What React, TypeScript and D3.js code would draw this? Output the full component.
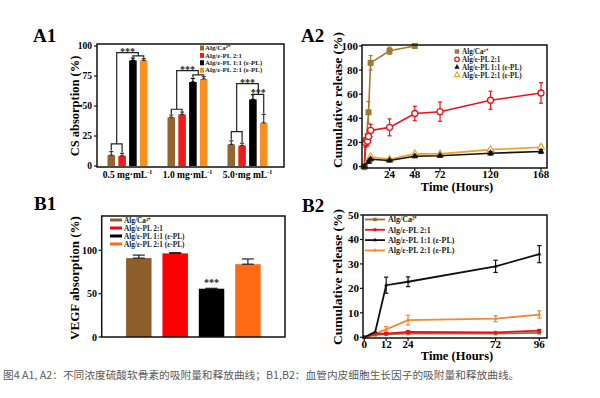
import React from 'react';
import * as d3 from 'd3';

const SERIF = '"Liberation Serif", "Times New Roman", serif';

// legend labels shared by all four panels
const seriesNames = ['Alg/Ca²⁺', 'Alg/ε-PL 2:1', 'Alg/ε-PL 1:1 (ε-PL)', 'Alg/ε-PL 2:1 (ε-PL)'];

// A1: CS absorption (%) at three concentrations
const a1Groups = ['0.5 mg·mL', '1.0 mg·mL', '5.0·mg mL'];
const a1Brown = [9, 40.5, 18];
const a1Red = [8.5, 43, 17];
const a1Black = [88, 70, 55.5];
const a1Orange = [88, 72.5, 36];
const a1BrownErr = [3, 2, 3];
const a1RedErr = [2, 2, 2];
const a1BlackErr = [2, 3, 4];
const a1OrangeErr = [1.5, 2, 7];
const a1Ticks = [0, 25, 50, 75, 100];
// significance bracket levels per group
const a1PairLow = [18.5, 47.3, 28.6];
const a1PairHigh = [91.8, 76, 59.7];
const a1Top = [94.5, 79.5, 68.6];

// A2: cumulative CS release
const a2BrownT = [0, 4, 6, 24, 48];
const a2BrownV = [0, 45, 86, 96, 100];
const a2BrownE = [0, 9, 6, 3, 1];
const a2RedT = [0, 1, 2, 3, 4, 6, 24, 48, 72, 120, 168];
const a2RedV = [0, 20, 22, 21, 25, 30, 32.5, 44, 45.5, 55, 61];
const a2RedE = [0, 4, 5, 4, 5, 5, 7, 6, 8, 7.5, 8.5];
const a2T = [0, 4, 6, 24, 48, 72, 120, 168];
const a2BlackV = [0, 4, 6, 5, 8.5, 9, 11, 12.5];
const a2BlackE = [0, 1, 1, 1, 1, 1, 1.5, 1.5];
const a2OrangeV = [0, 5, 8, 6, 10.5, 10.5, 14, 16];
const a2OrangeE = [0, 1, 1.5, 1, 1.5, 1.5, 1.5, 2];
const a2XTicks = [24, 48, 72, 120, 168];
const a2YTicks = [0, 20, 40, 60, 80, 100];

// B1: VEGF absorption (%)
const b1Values = [91, 96.5, 55.7, 84];
const b1Errors = [3.5, 0.8, 0.5, 6];
const b1Ticks = [0, 50, 100];

// B2: cumulative VEGF release
const b2T = [0, 6, 12, 24, 72, 96];
const b2BrownV = [0, 1, 1.3, 1.5, 1.5, 1.8];
const b2RedV = [0, 1.5, 1.5, 2.2, 2, 2.7];
const b2RedE = [0, 0.3, 0.5, 0.5, 0.4, 0.5];
const b2BlackV = [0, 2.2, 21.3, 22.7, 29, 34];
const b2BlackE = [0, 0.3, 3.3, 2, 2.5, 3.5];
const b2OrangeV = [0, 1.5, 3.2, 7, 7.6, 9.3];
const b2OrangeE = [0, 0.3, 1.2, 2, 1.2, 1.5];
const b2XTicks = [0, 12, 24, 72, 96];
const b2YTicks = [0, 10, 20, 30, 40, 50];

const caption = '图4 A1, A2：不同浓度硫酸软骨素的吸附量和释放曲线；B1,B2：血管内皮细胞生长因子的吸附量和释放曲线。';

const ErrBar = ({ x, y0, y1, cap, color }: any) => (
  <g stroke={color} strokeWidth={1.2}>
    <line x1={x} x2={x} y1={y0} y2={y1} />
    <line x1={x - cap} x2={x + cap} y1={y1} y2={y1} />
    <line x1={x - cap} x2={x + cap} y1={y0} y2={y0} />
  </g>
);

const Marker = ({ kind, x, y, s, color }: any) => {
  if (kind === 'square') return <rect x={x - s / 2} y={y - s / 2} width={s} height={s} fill={color} />;
  if (kind === 'circle') return <circle cx={x} cy={y} r={s / 2} fill="#fff" stroke={color} strokeWidth={1.3} />;
  if (kind === 'circleFill') return <circle cx={x} cy={y} r={s / 2} fill={color} />;
  const p = d3.symbol(d3.symbolTriangle, s * s * 0.6)();
  if (kind === 'triFill') return <path d={p!} transform={`translate(${x},${y})`} fill={color} />;
  return <path d={p!} transform={`translate(${x},${y})`} fill="#fff" stroke={color} strokeWidth={1.1} />;
};

const A1 = () => {
  const cols = ['#94652F', '#EE1B1B', '#000', '#F7901E'];
  const vals = [a1Brown, a1Red, a1Black, a1Orange];
  const errs = [a1BrownErr, a1RedErr, a1BlackErr, a1OrangeErr];
  const x0 = d3.scaleBand().domain(a1Groups).range([97, 278]).paddingInner(0.333).paddingOuter(0.175);
  const x1 = d3.scaleBand().domain(seriesNames).range([0, x0.bandwidth()]).paddingInner(0.3);
  const y = d3.scaleLinear().domain([0, 101.7]).range([166, 44]);
  const cx = (g: number, s: number) => x0(a1Groups[g])! + x1(seriesNames[s])! + x1.bandwidth() / 2;
  const top = (g: number, s: number) => y(vals[s][g] + errs[s][g]) - 1;
  return (
    <g fontFamily={SERIF} fontWeight="bold">
      <text x={33} y={42} fontSize={19}>A1</text>
      {a1Groups.map((g, gi) => vals.map((v, si) => (
        <g key={g + si}>
          <rect x={x0(g)! + x1(seriesNames[si])!} y={y(v[gi])} width={x1.bandwidth()} height={y(0) - y(v[gi])} fill={cols[si]} />
          <ErrBar x={cx(gi, si)} y0={y(v[gi])} y1={y(v[gi] + errs[si][gi])} cap={2} color={si === 2 ? '#000' : '#333'} />
        </g>
      )))}
      {a1Groups.map((g, gi) => {
        const m1 = (cx(gi, 0) + cx(gi, 1)) / 2;
        const m2 = (cx(gi, 2) + cx(gi, 3)) / 2;
        const yl = y(a1PairLow[gi]);
        const yh = y(a1PairHigh[gi]);
        const yt = y(a1Top[gi]);
        return (
          <g key={g} stroke="#222" strokeWidth={1.2} fill="none">
            <path d={`M${cx(gi, 0)},${top(gi, 0)}V${yl}H${cx(gi, 1)}V${top(gi, 1)}`} />
            <path d={`M${cx(gi, 2)},${top(gi, 2)}V${yh}H${cx(gi, 3)}V${top(gi, 3)}`} />
            <path d={`M${m1},${yl}V${yt}H${m2}V${yh}`} />
            <text x={(m1 + m2) / 2} y={yt + 2} textAnchor="middle" fontSize={10} fill="#222" stroke="none">***</text>
            {gi === 2 && <text x={m2} y={yh + 2} textAnchor="middle" fontSize={10} fill="#222" stroke="none">***</text>}
          </g>
        );
      })}
      <rect x={97} y={44} width={187} height={123} fill="none" stroke="#111" strokeWidth={1.5} />
      {a1Ticks.map(t => (
        <g key={t}>
          <line x1={94} x2={97} y1={y(t)} y2={y(t)} stroke="#111" strokeWidth={1.2} />
          <text x={92} y={y(t) + 3.3} textAnchor="end" fontSize={9.5}>{t}</text>
        </g>
      ))}
      {a1Groups.map(g => (
        <text key={g} x={x0(g)! + x0.bandwidth() / 2} y={178} textAnchor="middle" fontSize={9.5}>
          {g}<tspan dy={-4} fontSize={6}>-1</tspan>
        </text>
      ))}
      <text transform="translate(79,106) rotate(-90)" textAnchor="middle" fontSize={12.5}>CS absorption (%)</text>
      {seriesNames.map((n, i) => (
        <g key={n}>
          <rect x={200} y={45.5 + i * 7.4} width={4} height={5} fill={cols[i]} />
          <text x={205} y={50.2 + i * 7.4} fontSize={6.9} fill="#222">{n}</text>
        </g>
      ))}
    </g>
  );
};

const A2 = () => {
  const x = d3.scaleLinear().domain([-2.2, 173.7]).range([362, 547]);
  const y = d3.scaleLinear().domain([-1.2, 100.8]).range([168, 45]);
  const line = d3.line<[number, number]>().x(d => x(d[0])).y(d => y(d[1]));
  const series = [
    { t: a2BrownT, v: a2BrownV, e: a2BrownE, c: '#A07A35', k: 'square' },
    { t: a2RedT, v: a2RedV, e: a2RedE, c: '#E8141B', k: 'circle' },
    { t: a2T, v: a2OrangeV, e: a2OrangeE, c: '#F2A024', k: 'tri' },
    { t: a2T, v: a2BlackV, e: a2BlackE, c: '#111', k: 'triFill' },
  ];
  return (
    <g fontFamily={SERIF} fontWeight="bold">
      <text x={301} y={42} fontSize={19}>A2</text>
      {series.map((s, i) => (
        <g key={i}>
          <path d={line(s.t.map((t, j) => [t, s.v[j]]))!} fill="none" stroke={s.c} strokeWidth={1.6} />
          {s.t.map((t, j) => s.e[j] > 0 && (
            <ErrBar key={j} x={x(t)} y0={y(s.v[j] - s.e[j])} y1={y(s.v[j] + s.e[j])} cap={2} color={s.c} />
          ))}
          {s.t.map((t, j) => <Marker key={'m' + j} kind={s.k} x={x(t)} y={y(s.v[j])} s={6} color={s.c} />)}
        </g>
      ))}
      <rect x={362} y={45} width={185} height={123} fill="none" stroke="#111" strokeWidth={1.5} />
      {a2YTicks.map(t => (
        <g key={t}>
          <line x1={359} x2={362} y1={y(t)} y2={y(t)} stroke="#111" strokeWidth={1.2} />
          <text x={358} y={y(t) + 3.8} textAnchor="end" fontSize={11}>{t}</text>
        </g>
      ))}
      {a2XTicks.map(t => (
        <g key={t}>
          <line x1={x(t)} x2={x(t)} y1={168} y2={171} stroke="#111" strokeWidth={1.2} />
          <text x={x(t)} y={178} textAnchor="middle" fontSize={11}>{t}</text>
        </g>
      ))}
      <text x={457} y={191} textAnchor="middle" fontSize={12.5}>Time (Hours)</text>
      <text transform="translate(342,100) rotate(-90)" textAnchor="middle" fontSize={13.5}>Cumulative release (%)</text>
      {seriesNames.map((n, i) => {
        const s = [series[0], series[1], series[3], series[2]][i];
        return (
          <g key={n}>
            <Marker kind={s.k} x={457} y={51.5 + i * 7.8} s={4.5} color={s.c} />
            <text x={462} y={54.3 + i * 7.8} fontSize={7.2} fill="#222">{n}</text>
          </g>
        );
      })}
    </g>
  );
};

const B1 = () => {
  const cols = ['#8E5E2A', '#FF0000', '#000', '#FF6A14'];
  const x = d3.scaleBand().domain(seriesNames).range([101.7, 285]).paddingInner(0.3).paddingOuter(0.67);
  const y = d3.scaleLinear().domain([0, 139.6]).range([337, 216]);
  return (
    <g fontFamily={SERIF} fontWeight="bold">
      <text x={34} y={210} fontSize={19}>B1</text>
      {seriesNames.map((n, i) => (
        <g key={n}>
          <rect x={x(n)} y={y(b1Values[i])} width={x.bandwidth()} height={y(0) - y(b1Values[i])} fill={cols[i]} />
          <ErrBar x={x(n)! + x.bandwidth() / 2} y0={y(b1Values[i])} y1={y(b1Values[i] + b1Errors[i])} cap={6} color="#222" />
        </g>
      ))}
      <text x={x(seriesNames[2])! + x.bandwidth() / 2} y={y(b1Values[2]) - 3} textAnchor="middle" fontSize={10} fill="#222">***</text>
      <rect x={101.7} y={216} width={183.3} height={121} fill="none" stroke="#111" strokeWidth={1.5} />
      {b1Ticks.map(t => (
        <g key={t}>
          <line x1={98.5} x2={101.7} y1={y(t)} y2={y(t)} stroke="#111" strokeWidth={1.2} />
          <text x={97} y={y(t) + 3.5} textAnchor="end" fontSize={10}>{t}</text>
        </g>
      ))}
      <text transform="translate(79,278) rotate(-90)" textAnchor="middle" fontSize={13}>VEGF absorption (%)</text>
      {seriesNames.map((n, i) => (
        <g key={n}>
          <line x1={110} x2={122} y1={220 + i * 8} y2={220 + i * 8} stroke={cols[i]} strokeWidth={3} />
          <text x={124} y={222.6 + i * 8} fontSize={7.3} fill="#222">{n}</text>
        </g>
      ))}
    </g>
  );
};

const B2 = () => {
  const x = d3.scaleLinear().domain([-0.7, 100.2]).range([363, 547]);
  const y = d3.scaleLinear().domain([-0.3, 50]).range([338, 215]);
  const line = d3.line<[number, number]>().x(d => x(d[0])).y(d => y(d[1]));
  const zero = b2T.map(() => 0);
  const series = [
    { v: b2OrangeV, e: b2OrangeE, c: '#F08A35', k: 'triFill' },
    { v: b2BrownV, e: zero, c: '#9A6A2E', k: 'square' },
    { v: b2RedV, e: b2RedE, c: '#E5121A', k: 'circleFill' },
    { v: b2BlackV, e: b2BlackE, c: '#111', k: 'triFill' },
  ];
  const legendOrder = [series[1], series[2], series[3], series[0]];
  return (
    <g fontFamily={SERIF} fontWeight="bold">
      <text x={302} y={212} fontSize={19}>B2</text>
      {series.map((s, i) => (
        <g key={i}>
          <path d={line(b2T.map((t, j) => [t, s.v[j]]))!} fill="none" stroke={s.c} strokeWidth={1.8} />
          {b2T.map((t, j) => s.e[j] > 0.4 && (
            <ErrBar key={j} x={x(t)} y0={y(s.v[j] - s.e[j])} y1={y(s.v[j] + s.e[j])} cap={2.2} color={s.c} />
          ))}
          {b2T.map((t, j) => <Marker key={'m' + j} kind={s.k} x={x(t)} y={y(s.v[j])} s={3.5} color={s.c} />)}
        </g>
      ))}
      <rect x={363} y={215} width={184} height={123} fill="none" stroke="#111" strokeWidth={1.5} />
      {b2YTicks.map(t => (
        <g key={t}>
          <line x1={360} x2={363} y1={y(t)} y2={y(t)} stroke="#111" strokeWidth={1.2} />
          <text x={359} y={y(t) + 3.8} textAnchor="end" fontSize={11}>{t}</text>
        </g>
      ))}
      {b2XTicks.map(t => (
        <g key={t}>
          <line x1={x(t)} x2={x(t)} y1={338} y2={341} stroke="#111" strokeWidth={1.2} />
          <text x={x(t)} y={348} textAnchor="middle" fontSize={11}>{t}</text>
        </g>
      ))}
      <text x={457} y={360} textAnchor="middle" fontSize={12.5}>Time (Hours)</text>
      <text transform="translate(342,277) rotate(-90)" textAnchor="middle" fontSize={13.5}>Cumulative release (%)</text>
      {legendOrder.map((s, i) => (
        <g key={i}>
          <line x1={365} x2={385} y1={219.5 + i * 10.3} y2={219.5 + i * 10.3} stroke={s.c} strokeWidth={1.8} />
          <Marker kind={s.k} x={375} y={219.5 + i * 10.3} s={3.5} color={s.c} />
          <text x={388} y={222.3 + i * 10.3} fontSize={8} fill="#222">{seriesNames[i]}</text>
        </g>
      ))}
    </g>
  );
};

export default function App() {
  return (
    <svg width={600} height={398} style={{ position: 'absolute', left: 0, top: 0, background: '#fff' }}>
      <rect width={600} height={398} fill="#fff" />
      <A1 />
      <A2 />
      <B1 />
      <B2 />
      <text x={3} y={379} fontFamily='"Noto Sans CJK SC", "Noto Sans", sans-serif' fontSize={10.7} fill="#5a5a5a">{caption}</text>
    </svg>
  );
}
